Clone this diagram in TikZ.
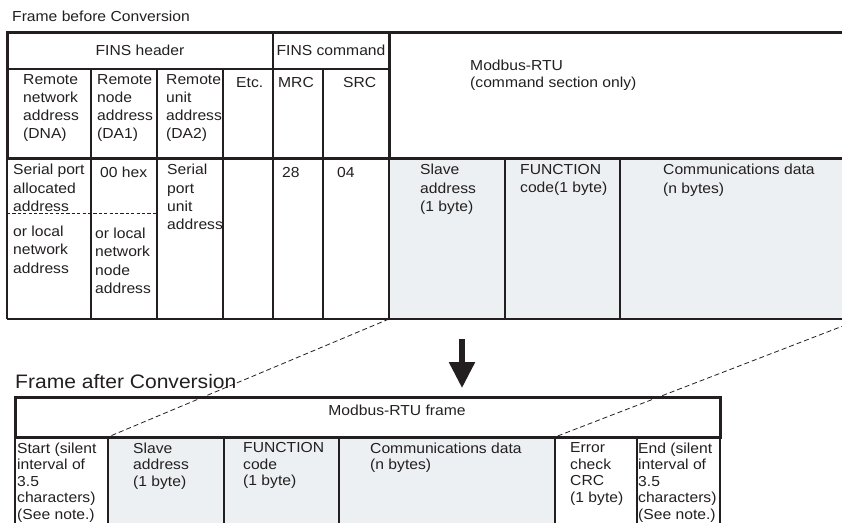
\documentclass[tikz,border=0pt]{standalone}
\usepackage{fontspec}
\setmainfont{Liberation Sans}[FakeStretch=1.08]
\usepackage{tikz}
\usetikzlibrary{arrows.meta}
\definecolor{LineBlack}{RGB}{35, 31, 32}
\definecolor{FieldGrey}{RGB}{237, 240, 242}
\newcommand{\cellfont}{\fontsize{14.5}{18.2}\selectfont}
\newcommand{\lowcellfont}{\fontsize{14.5}{16.5}\selectfont}
\newcommand{\bigtitlefont}{\fontsize{19.5}{23}\selectfont}

\begin{document}
\begin{tikzpicture}[x=1pt, y=-1pt,
    thinline/.style={draw=LineBlack, line width=1.1pt},
    thickline/.style={draw=LineBlack, line width=3pt},
    celltext/.style={anchor=north west, inner sep=0pt, align=left, font=\cellfont, text=LineBlack, execute at begin node=\strut},
    lowtext/.style={celltext, font=\lowcellfont},
    headtext/.style={anchor=base, inner sep=0pt, font=\cellfont, text=LineBlack},
    linkline/.style={draw=LineBlack, line width=0.8pt, dash pattern=on 5pt off 3pt}]
      \useasboundingbox (0,0) rectangle (842,522);
      \clip (0,0) rectangle (842,522);

      % Frame before conversion
      \node[anchor=base west, inner sep=0pt, font=\cellfont, text=LineBlack] (title1) at (12,21.5) {Frame before Conversion};

      % Modbus-RTU part of the data row
      \fill[FieldGrey] (389,158) rectangle (870,319);

      % FINS header / FINS command grid
      \draw[thinline] (7,69) -- (389,69);
      \draw[thinline] (273,32) -- (273,158);
      \foreach \x in {91,157,223,323}
        \draw[thinline] (\x,69) -- (\x,158);
      \foreach \x in {7,91,157,223,273,323,389,505,620}
        \draw[thinline] (\x,158) -- (\x,319);
      \draw[thinline] (7,319) -- (870,319);
      \draw[LineBlack, line width=1pt, dash pattern=on 3.2pt off 2.2pt] (7,213) -- (157,213);
      \draw[thickline] (7,158) -- (7,32) -- (870,32);
      \draw[thickline] (7,158) -- (870,158);
      \draw[thickline] (389,32) -- (389,158);

      \node[headtext] (finshead) at (140,55) {FINS header};
      \node[headtext] (finscmd) at (331,55) {FINS command};
      \node[celltext] (dna) at (23,74.2) {Remote\\network\\address\\(DNA)};
      \node[celltext] (da1) at (97,74.2) {Remote\\node\\address\\(DA1)};
      \node[celltext] (da2) at (166,74.2) {Remote\\unit\\address\\(DA2)};
      \node[celltext] (etc) at (236,74.2) {Etc.};
      \node[celltext] (mrc) at (278,74.2) {MRC};
      \node[celltext] (src) at (343,74.2) {SRC};
      \node[celltext, font=\fontsize{14.5}{16.5}\selectfont] (rtucmd) at (470,60) {Modbus-RTU\\(command section only)};

      % Data row
      \node[celltext] (portaddr) at (13,164.2) {Serial port\\allocated\\address};
      \node[celltext] (localnet) at (13,226) {or local\\network\\address};
      \node[celltext] (hex) at (100,164.2) {00 hex};
      \node[celltext] (localnode) at (95,228) {or local\\network\\node\\address};
      \node[celltext] (unitaddr) at (167,164.2) {Serial\\port\\unit\\address};
      \node[celltext] (mrcval) at (282,164.2) {28};
      \node[celltext] (srcval) at (337,164.2) {04};
      \node[celltext] (slave1) at (420,164.2) {Slave\\address\\(1 byte)};
      \node[celltext] (func1) at (520,164.2) {FUNCTION\\code(1 byte)};
      \node[celltext] (data1) at (663,164.2) {Communications data\\(n bytes)};

      % Conversion arrow
      \coordinate (arrowtop) at (462,339);
      \coordinate (arrowtip) at (462,388);
      \draw[LineBlack, line width=5.5pt, -{Triangle[width=25pt, length=26pt]}] (arrowtop) -- (arrowtip);

      % Frame after conversion
      \node[anchor=base west, inner sep=0pt, font=\bigtitlefont, text=LineBlack] (title2) at (15,388) {Frame after Conversion};

      \fill[FieldGrey] (108,437) rectangle (555,530);
      \foreach \x in {15,108,224,339,555,637,720}
        \draw[thinline] (\x,437) -- (\x,530);
      \draw[thickline] (15,397) rectangle (720,437);
      \node[headtext] (rtuframe) at (397,415) {Modbus-RTU frame};

      \node[lowtext] (start) at (17,442.5) {Start (silent\\interval of\\3.5\\characters)\\(See note.)};
      \node[lowtext] (slave2) at (133,442.5) {Slave\\address\\(1 byte)};
      \node[lowtext] (func2) at (243,442.5) {FUNCTION\\code\\(1 byte)};
      \node[lowtext] (data2) at (370,442.5) {Communications data\\(n bytes)};
      \node[lowtext] (crc) at (570,442.5) {Error\\check\\CRC\\(1 byte)};
      \node[lowtext] (stop) at (638,442.5) {End (silent\\interval of\\3.5\\characters)\\(See note.)};

      % Dashed guide lines
      \coordinate (rtuleft) at (389,319);
      \coordinate (rturight) at (861,319);
      \coordinate (slaveleft) at (108,437);
      \coordinate (crcleft) at (555,437);
      \draw[linkline] (rtuleft) -- (slaveleft);
      \draw[linkline] (rturight) -- (crcleft);
\end{tikzpicture}
\end{document}
